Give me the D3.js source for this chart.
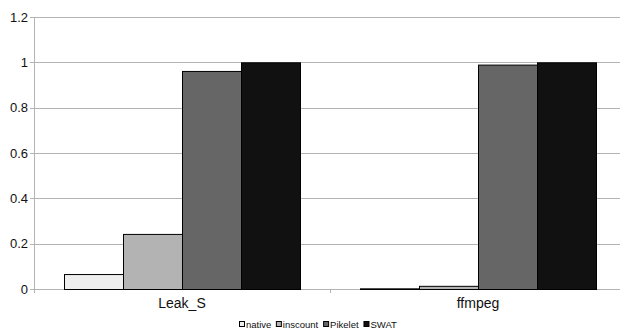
<!DOCTYPE html>
<html><head><meta charset="utf-8">
<script src="https://cdn.jsdelivr.net/npm/d3@7"></script>
<style>body{margin:0;background:#fff}svg{display:block}text{font-family:"Liberation Sans",Arial,sans-serif}</style>
</head><body>
<svg id="c" width="622" height="332"></svg>
<script>
const categories = ["Leak_S", "ffmpeg"];
const seriesNames = ["native", "inscount", "Pikelet", "SWAT"];
const seriesColors = ["#eeeeee", "#b3b3b3", "#666666", "#111111"];
const native = [0.066, 0.003];
const inscount = [0.243, 0.014];
const pikelet = [0.962, 0.99];
const swat = [1.0, 1.0];
const yTicks = [0, 0.2, 0.4, 0.6, 0.8, 1, 1.2];

const values = [native, inscount, pikelet, swat];
const svg = d3.select("#c");
const W = 622, H = 332;
const plotLeft = 34, plotRight = 626, plotTop = 17, plotBottom = 289;
const x = d3.scaleBand().domain(categories).range([plotLeft, plotRight]);
const xs = d3.scaleBand().domain(seriesNames).range([30, x.bandwidth() - 30]).padding(0);
const y = d3.scaleLinear().domain([0, 1.2]).range([plotBottom, plotTop]);

// gridlines
svg.append("g").selectAll("line").data(yTicks).join("line")
  .attr("x1", plotLeft - 4).attr("x2", W - 2)
  .attr("y1", d => Math.round(y(d)) + 0.5).attr("y2", d => Math.round(y(d)) + 0.5)
  .attr("stroke", "#b3b3b3").attr("stroke-width", 1);

// y axis line
svg.append("line").attr("x1", plotLeft + 0.5).attr("x2", plotLeft + 0.5)
  .attr("y1", y(1.2)).attr("y2", y(0) + 4).attr("stroke", "#b3b3b3");

// y labels
svg.append("g").selectAll("text").data(yTicks).join("text")
  .attr("x", plotLeft - 6).attr("y", d => y(d)).attr("dy", "0.35em")
  .attr("text-anchor", "end").attr("font-size", 13).attr("fill", "#111")
  .text(d => d3.format("")(d));

// x tick at category boundary
svg.append("g").selectAll("line").data([categories[1]]).join("line")
  .attr("x1", d => Math.round(x(d)) + 0.5).attr("x2", d => Math.round(x(d)) + 0.5)
  .attr("y1", y(0)).attr("y2", y(0) + 4).attr("stroke", "#b3b3b3");

// bars
categories.forEach((c, ci) => {
  const g = svg.append("g").attr("transform", `translate(${x(c)},0)`);
  g.selectAll("rect").data(seriesNames.map((s, si) => ({s, si, v: values[si][ci]}))).join("rect")
    .attr("x", d => Math.round(xs(d.s)) + 0.5)
    .attr("width", Math.round(xs.bandwidth()))
    .attr("y", d => y(d.v) + 0.5)
    .attr("height", d => Math.max(0, y(0) - y(d.v)))
    .attr("fill", d => seriesColors[d.si])
    .attr("stroke", "#000").attr("stroke-width", 1);
});

// x labels
svg.append("g").selectAll("text").data(categories).join("text")
  .attr("x", d => x(d) + x.bandwidth() / 2).attr("y", y(0) + 19)
  .attr("text-anchor", "middle").attr("font-size", 14).attr("fill", "#111")
  .text(d => d);

// legend
const lg = svg.append("g");
seriesNames.forEach((s, i) => {
  const item = lg.append("g");
  item.append("rect").attr("x", 0.5).attr("y", 321.5).attr("width", 5).attr("height", 5)
    .attr("fill", seriesColors[i]).attr("stroke", "#000");
  item.append("text").attr("x", 7).attr("y", 327.5).attr("font-size", 9.5).attr("fill", "#111").text(s);
});
let widths = [];
lg.selectAll("g").each(function(){ widths.push(this.getBBox().width); });
const gap = 5;
const total = d3.sum(widths) + gap * (widths.length - 1);
let cx = 239;
lg.selectAll("g").each(function(d, i){
  d3.select(this).attr("transform", `translate(${cx},0)`);
  cx += widths[i] + gap;
});
</script>
</body></html>
